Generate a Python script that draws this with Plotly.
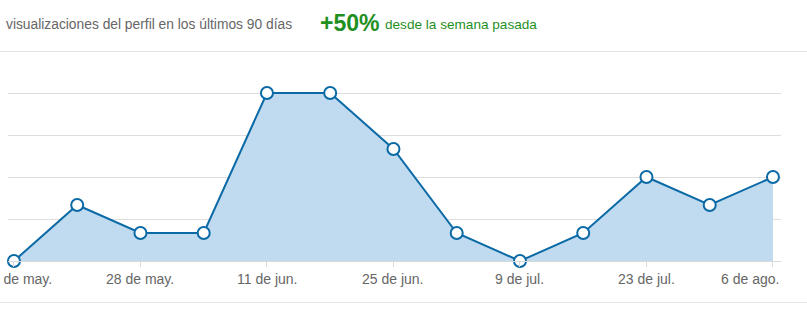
import plotly.graph_objects as go

dates = ["2018-05-14", "2018-05-21", "2018-05-28", "2018-06-04", "2018-06-11",
         "2018-06-18", "2018-06-25", "2018-07-02", "2018-07-09", "2018-07-16",
         "2018-07-23", "2018-07-30", "2018-08-06"]
views = [0, 4, 2, 2, 12, 12, 8, 2, 0, 2, 6, 4, 6]
tick_dates = ["2018-05-14", "2018-05-28", "2018-06-11", "2018-06-25",
              "2018-07-09", "2018-07-23", "2018-08-06"]
tick_labels = ["14 de may.", "28 de may.", "11 de jun.", "25 de jun.",
               "9 de jul.", "23 de jul.", "6 de ago."]
grid_vals = [3, 6, 9, 12]

title_text = "visualizaciones del perfil en los últimos 90 días"
change_text = "+50%"
change_sub = "desde la semana pasada"

LINE = "#0b6aa6"
FILL = "#c0dbef"
GREEN = "#1f8f1f"
GRAY = "#666666"
FONT = "Liberation Sans, Arial, sans-serif"

W, H = 807, 310
ml, mr, mt, mb = 8, 26, 79, 49
pw, ph = W - ml - mr, H - mt - mb

def px_x(p):
    return (p - ml) / pw

def px_y(p):
    return (H - mb - p) / ph

fig = go.Figure()
fig.add_trace(go.Scatter(
    x=dates, y=views, mode="lines+markers",
    fill="tozeroy", fillcolor=FILL,
    line=dict(color=LINE, width=2),
    marker=dict(size=12, color="white", line=dict(color=LINE, width=2)),
    cliponaxis=False, hoverinfo="x+y",
))

annotations = []
for i, (d, t) in enumerate(zip(tick_dates, tick_labels)):
    if i == len(tick_dates) - 1:
        xa, xs = "right", 8
    elif i == 0:
        xa, xs = "right", 40
    else:
        xa, xs = "center", 0
    annotations.append(dict(x=d, xref="x", y=px_y(279), yref="paper", text=t,
                            showarrow=False, xanchor=xa, yanchor="middle", xshift=xs,
                            font=dict(size=14, color=GRAY, family=FONT)))

annotations.append(dict(x=px_x(4), xref="paper", y=px_y(25), yref="paper",
                        text=title_text, showarrow=False, xanchor="left", yanchor="middle",
                        font=dict(size=13.8, color=GRAY, family=FONT)))
annotations.append(dict(x=px_x(318), xref="paper", y=px_y(23), yref="paper",
                        text="<b>" + change_text + "</b>", showarrow=False,
                        xanchor="left", yanchor="middle",
                        font=dict(size=23, color=GREEN, family=FONT)))
annotations.append(dict(x=px_x(383), xref="paper", y=px_y(25), yref="paper",
                        text=change_sub, showarrow=False, xanchor="left", yanchor="middle",
                        font=dict(size=13.6, color=GREEN, family=FONT)))

shapes = [
    dict(type="line", xref="paper", yref="paper", x0=px_x(0), x1=px_x(W),
         y0=px_y(51.5), y1=px_y(51.5), line=dict(color="#e3e3e3", width=1)),
    dict(type="line", xref="paper", yref="paper", x0=px_x(0), x1=px_x(W),
         y0=px_y(302.5), y1=px_y(302.5), line=dict(color="#e3e3e3", width=1)),
]

fig.update_layout(
    width=W, height=H,
    margin=dict(l=ml, r=mr, t=mt, b=mb),
    paper_bgcolor="white", plot_bgcolor="white",
    showlegend=False,
    annotations=annotations, shapes=shapes,
    xaxis=dict(range=["2018-05-13 08:10", "2018-08-06 21:20"], type="date",
               showgrid=False, zeroline=False, showline=True, linecolor="#d9d9d9",
               linewidth=1, ticks="outside", tickvals=tick_dates, ticklen=5,
               tickcolor="#d9d9d9", showticklabels=False, fixedrange=True),
    yaxis=dict(range=[0, 13], showgrid=True, gridcolor="#dedede", gridwidth=1,
               tickvals=grid_vals, showticklabels=False, zeroline=False,
               showline=False, fixedrange=True),
)

fig.write_html("out.html")
